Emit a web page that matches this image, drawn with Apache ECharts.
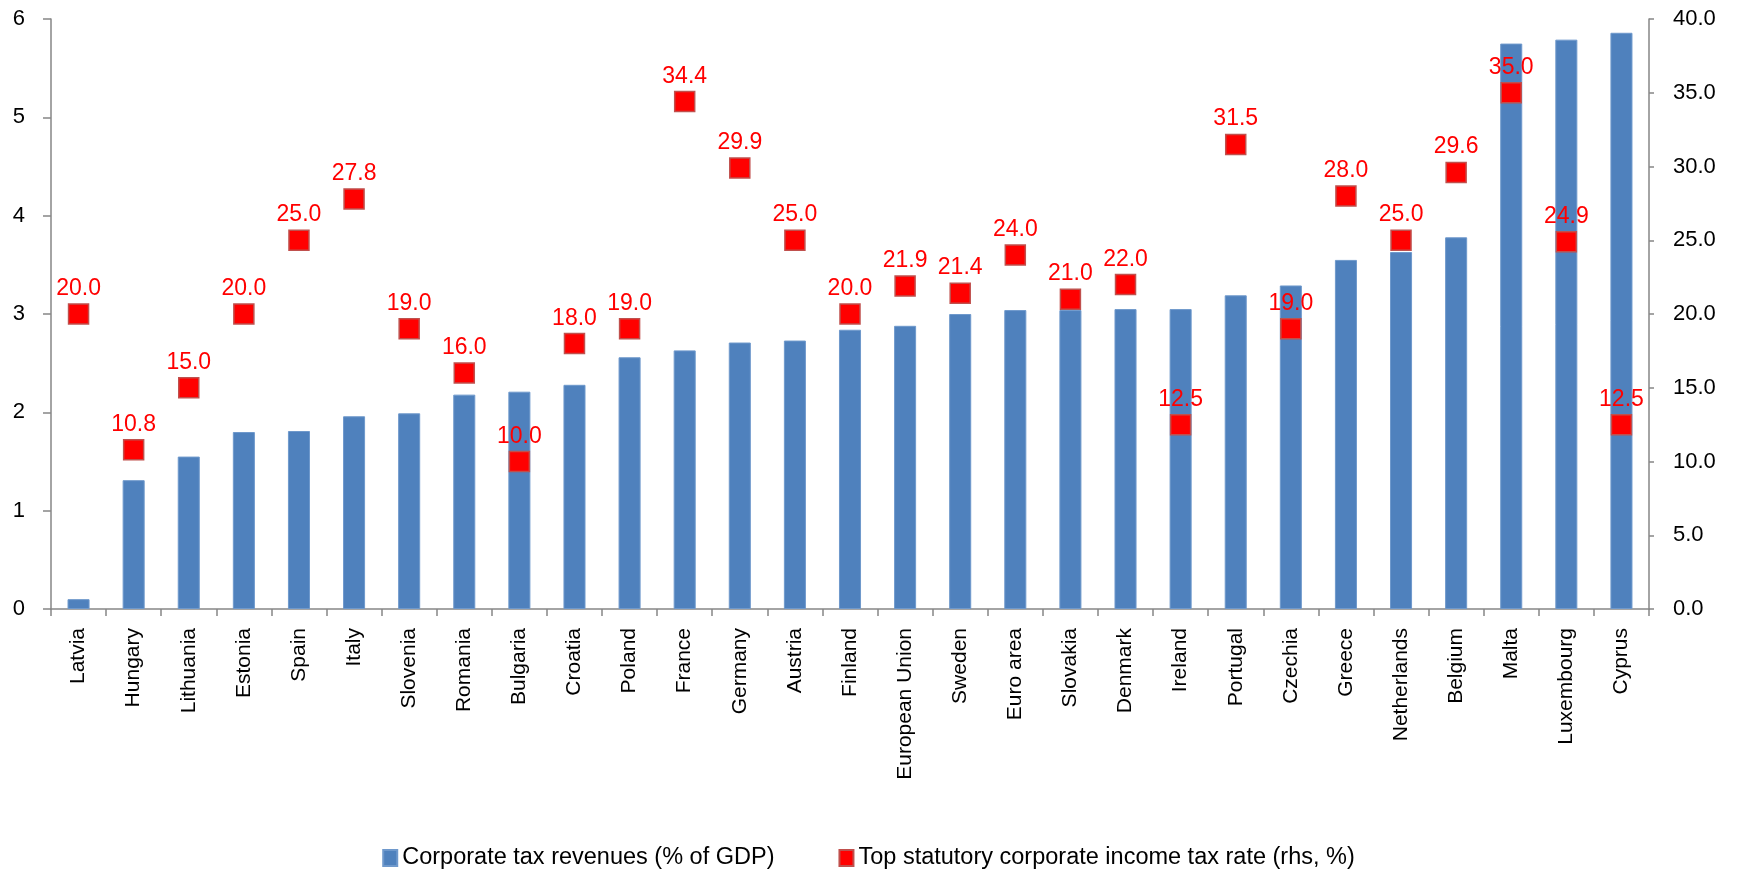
<!DOCTYPE html>
<html>
<head>
<meta charset="utf-8">
<script src="https://cdn.jsdelivr.net/npm/echarts@6/dist/echarts.min.js"></script>
<style>
  html, body { margin: 0; padding: 0; background: #fff; }
  #chart { width: 1737px; height: 872px; }
</style>
</head>
<body>
<div id="chart"></div>
<script>
const countries = ['Latvia', 'Hungary', 'Lithuania', 'Estonia', 'Spain', 'Italy', 'Slovenia', 'Romania',
    'Bulgaria', 'Croatia', 'Poland', 'France', 'Germany', 'Austria', 'Finland', 'European Union',
    'Sweden', 'Euro area', 'Slovakia', 'Denmark', 'Ireland', 'Portugal', 'Czechia', 'Greece',
    'Netherlands', 'Belgium', 'Malta', 'Luxembourg', 'Cyprus'];

// corporate tax revenues, % of GDP (lhs)
const revenues = [0.10, 1.31, 1.55, 1.80, 1.81, 1.96, 1.99, 2.18, 2.21, 2.28, 2.56, 2.63, 2.71, 2.73,
    2.84, 2.88, 3.00, 3.04, 3.04, 3.05, 3.05, 3.19, 3.29, 3.55, 3.63, 3.78, 5.75, 5.79, 5.86];

// top statutory corporate income tax rate, % (rhs)
const taxRates = [20.0, 10.8, 15.0, 20.0, 25.0, 27.8, 19.0, 16.0, 10.0, 18.0, 19.0, 34.4, 29.9, 25.0,
    20.0, 21.9, 21.4, 24.0, 21.0, 22.0, 12.5, 31.5, 19.0, 28.0, 25.0, 29.6, 35.0, 24.9, 12.5];

const leftTicks = [0, 1, 2, 3, 4, 5, 6];
const rightTicks = [0, 5, 10, 15, 20, 25, 30, 35, 40];

const chart = echarts.init(document.getElementById('chart'));

const axisGray = '#868686';
const textFont = '"Liberation Sans", Arial, sans-serif';

const option = {
    animation: false,
    grid: { left: 51, right: 88, top: 19, bottom: 263, containLabel: false },
    legend: {
        top: 841,
        left: 'center',
        itemGap: 64,
        itemWidth: 14,
        itemHeight: 16,
        textStyle: { fontFamily: textFont, fontSize: 23.5, color: '#000' },
        data: [
            { name: 'Corporate tax revenues (% of GDP)', icon: 'rect' },
            { name: 'Top statutory corporate income tax rate (rhs, %)', icon: 'rect' }
        ]
    },
    xAxis: {
        type: 'category',
        data: countries,
        axisLine: { lineStyle: { color: axisGray, width: 1.5 } },
        axisTick: { show: true, length: 7, lineStyle: { color: axisGray, width: 1.5 } },
        axisLabel: {
            rotate: 90,
            interval: 0,
            margin: 19,
            color: '#000',
            fontFamily: textFont,
            fontSize: 21
        }
    },
    yAxis: [
        {
            type: 'value',
            min: leftTicks[0],
            max: leftTicks[leftTicks.length - 1],
            interval: 1,
            axisLine: { show: true, lineStyle: { color: axisGray, width: 1.5 } },
            axisTick: { show: true, length: 8, lineStyle: { color: axisGray, width: 1.5 } },
            splitLine: { show: false },
            axisLabel: { color: '#000', fontFamily: textFont, fontSize: 22, margin: 26 }
        },
        {
            type: 'value',
            min: rightTicks[0],
            max: rightTicks[rightTicks.length - 1],
            interval: 5,
            position: 'right',
            axisLine: { show: true, lineStyle: { color: axisGray, width: 1.5 } },
            axisTick: { show: true, length: 5, lineStyle: { color: axisGray, width: 1.5 } },
            splitLine: { show: false },
            axisLabel: {
                color: '#000', fontFamily: textFont, fontSize: 22, margin: 24,
                formatter: v => v.toFixed(1)
            }
        }
    ],
    series: [
        {
            name: 'Corporate tax revenues (% of GDP)',
            type: 'bar',
            yAxisIndex: 0,
            data: revenues,
            barWidth: '40%',
            itemStyle: { color: '#4F81BD', borderColor: '#6F99CC', borderWidth: 1 }
        },
        {
            name: 'Top statutory corporate income tax rate (rhs, %)',
            type: 'scatter',
            yAxisIndex: 1,
            data: taxRates,
            symbol: 'rect',
            symbolSize: 20,
            itemStyle: { color: '#FF0000', borderColor: '#C0504D', borderWidth: 1.5, opacity: 1 },
            label: {
                show: true,
                position: 'top',
                distance: 3,
                color: '#FF0000',
                fontFamily: textFont,
                fontSize: 23,
                formatter: p => p.value.toFixed(1)
            },
            z: 5
        }
    ]
};

chart.setOption(option);
</script>
</body>
</html>
